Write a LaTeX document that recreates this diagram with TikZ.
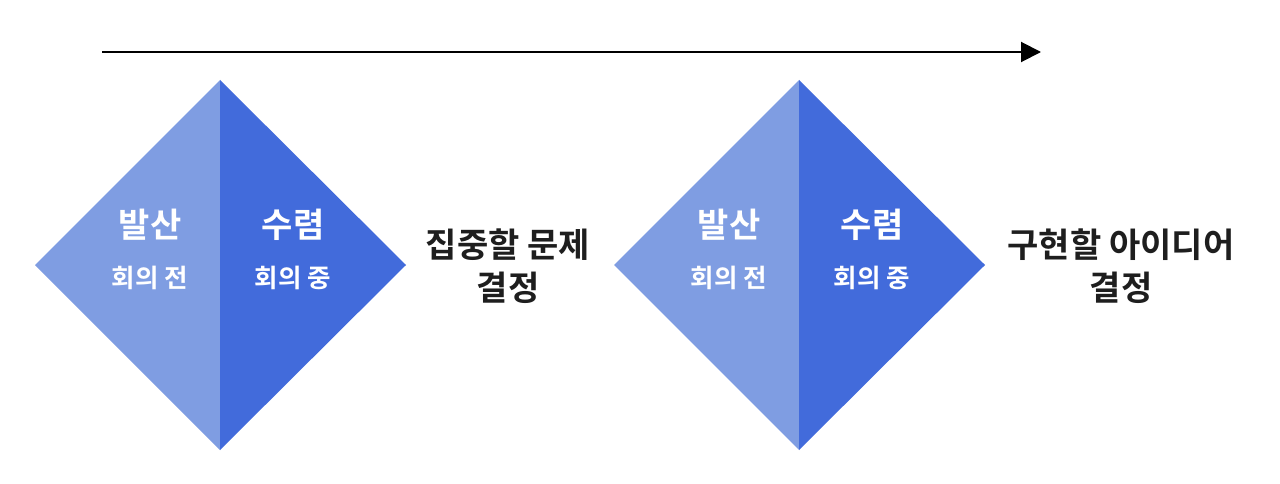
\documentclass[tikz,border=0pt]{standalone}
\usepackage{fontspec}
\setmainfont{Noto Sans CJK KR}[BoldFont={* Bold}]
\newfontfamily\kr{Noto Sans CJK KR Bold}
\usetikzlibrary{arrows.meta}
\definecolor{lightblue}{HTML}{7F9DE2}
\definecolor{darkblue}{HTML}{426BDB}
\definecolor{ink}{HTML}{1E1E1E}
\tikzset{
  big/.style={text=white, font=\kr\fontsize{34}{38}\selectfont, inner sep=0pt},
  small/.style={text=white, font=\kr\fontsize{25.5}{28}\selectfont, inner sep=0pt},
  outcome/.style={text=ink, font=\kr\fontsize{34}{43}\selectfont, align=center, inner sep=0pt},
  lefthalf/.style={fill=lightblue, draw=none},
  righthalf/.style={fill=darkblue, draw=none},
  timeline/.style={draw=black, line width=2pt, -{Triangle[length=20pt,width=20pt]}}
}
\begin{document}
\begin{tikzpicture}[x=1pt,y=-1pt]
\useasboundingbox (0,0) rectangle (1280,484);
% timeline
\coordinate (tstart) at (102,52);
\coordinate (tend) at (1041,52);
\draw[timeline] (tstart) -- (tend);
% diamond 1
\fill[lefthalf] (220,80) -- (35,265) -- (220,450) -- cycle;
\fill[righthalf] (220,80) -- (406,265) -- (220,450) -- cycle;
% diamond 2
\fill[lefthalf] (799,80) -- (614,265) -- (799,450) -- cycle;
\fill[righthalf] (799,80) -- (985,265) -- (799,450) -- cycle;
% labels diamond 1
\node[big] (d1a) at (150,225) {발산};
\node[small] (d1b) at (150,278) {회의 전};
\node[big] (d1c) at (293,225) {수렴};
\node[small] (d1d) at (293,278) {회의 중};
% labels diamond 2
\node[big] (d2a) at (729,225) {발산};
\node[small] (d2b) at (729,278) {회의 전};
\node[big] (d2c) at (872,225) {수렴};
\node[small] (d2d) at (872,278) {회의 중};
% outcomes
\node[outcome] (o1) at (508,266) {집중할 문제\\결정};
\node[outcome] (o2) at (1121,266) {구현할 아이디어\\결정};
\end{tikzpicture}
\end{document}
